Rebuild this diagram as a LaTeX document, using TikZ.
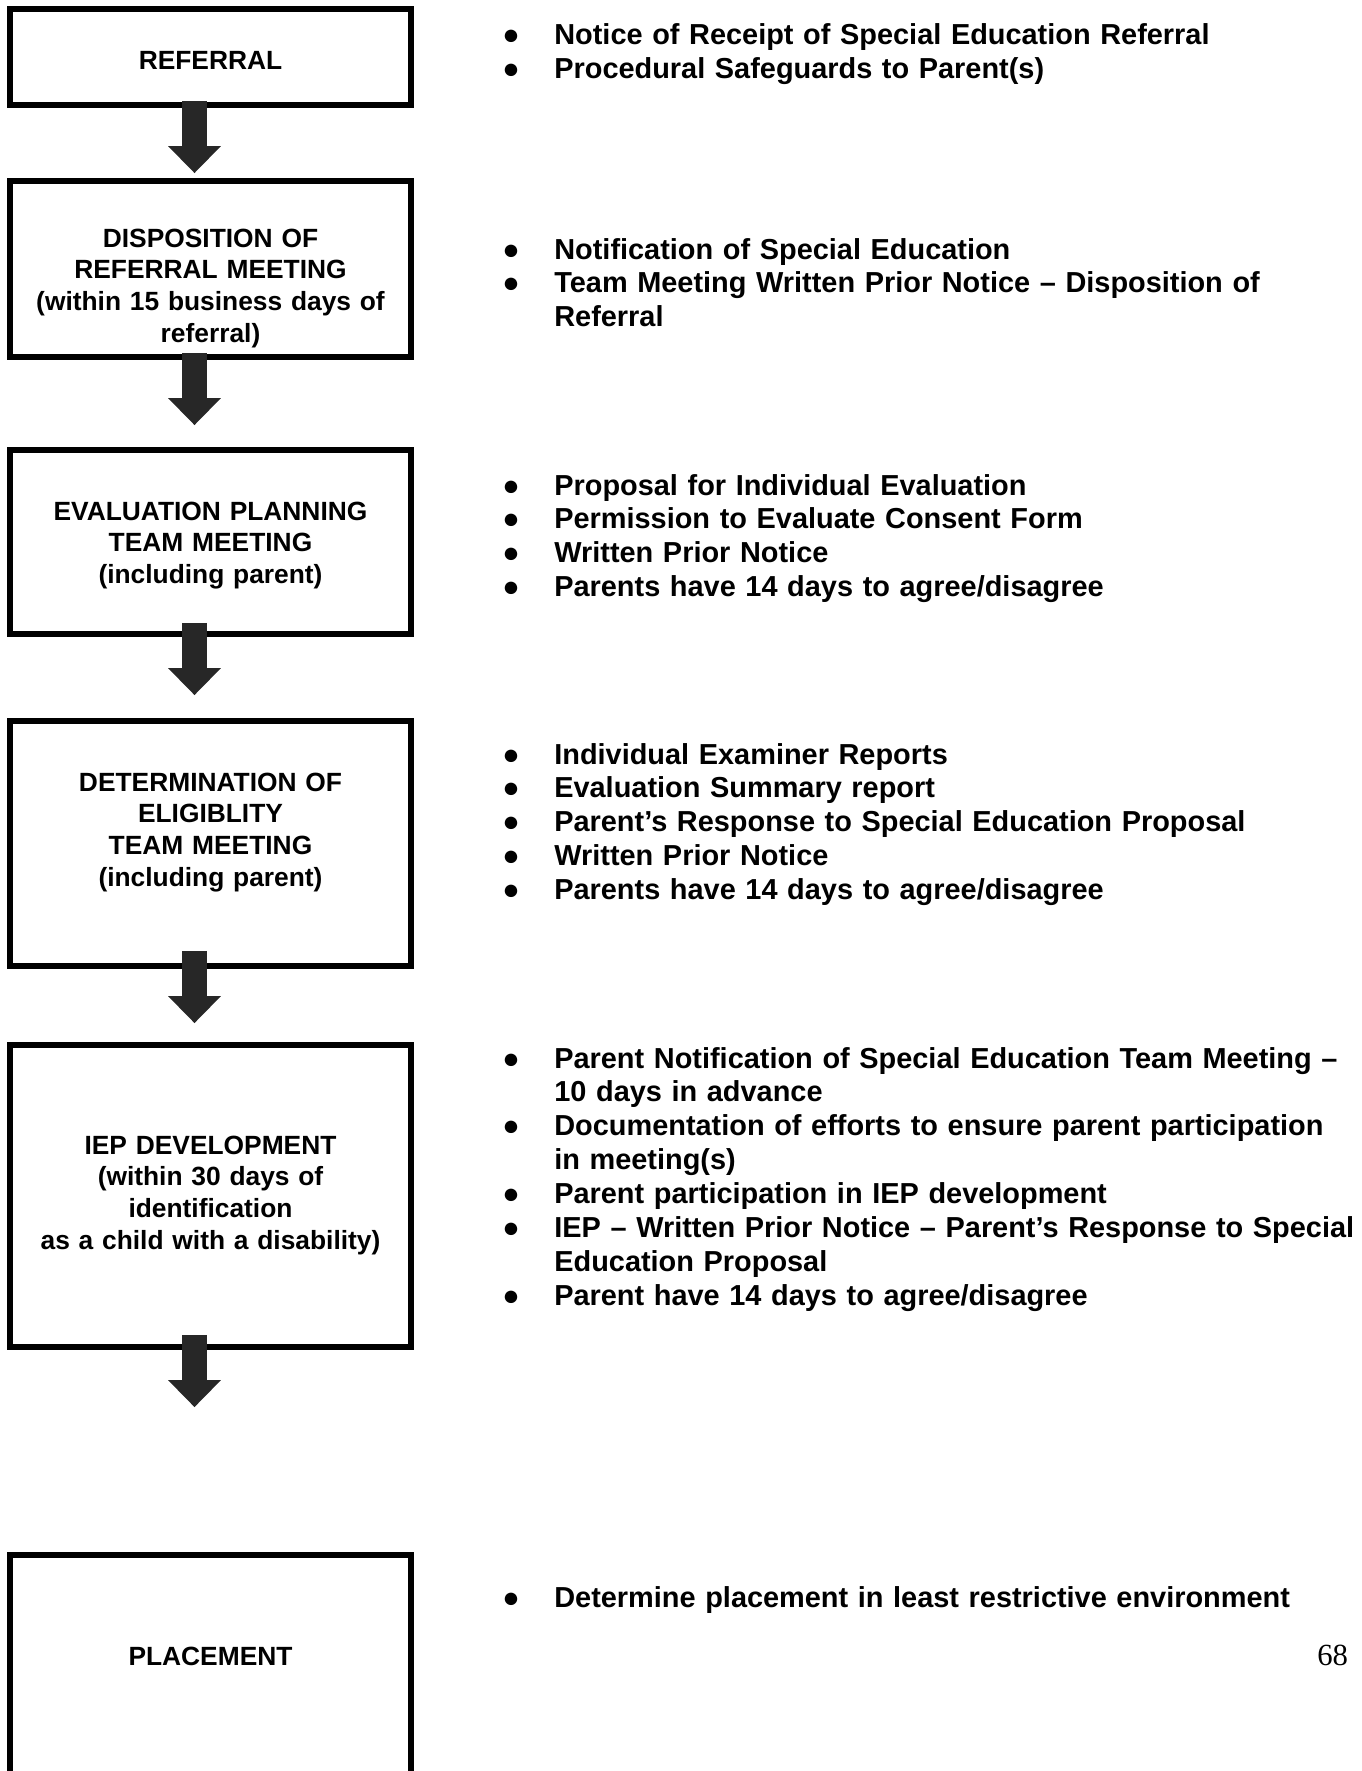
\documentclass[tikz,border=0pt]{standalone}
\usepackage{fontspec}
\setmainfont{Liberation Sans}
\newfontfamily\pagenofont{Liberation Serif}
\usetikzlibrary{arrows.meta}
\definecolor{arrowgray}{HTML}{272727}
\newcommand{\bit}{\makebox[1.04cm][l]{●}}
\newcommand{\cont}{\hspace*{1.04cm}}

\begin{document}
\begin{tikzpicture}[x=0.02cm, y=-0.02cm]
	\tikzstyle{stagebox}=[draw=black, line width=0.12cm, minimum width=8.02cm, inner sep=0pt, outer sep=0pt]
	\tikzstyle{stagetext}=[anchor=base, text width=8cm, align=center, inner sep=0pt, font=\fontsize{15pt}{18.2pt}\selectfont\bfseries]
	\tikzstyle{notes}=[anchor=base west, text width=17.5cm, align=left, inner sep=0pt, font=\fontsize{16.45pt}{19.3pt}\selectfont\bfseries]
	\tikzstyle{flow}=[draw=arrowgray, line width=0.5cm, -{Triangle[width=1.06cm, length=0.54cm, line width=0pt]}]

	\useasboundingbox (0,0) rectangle (1362,1771);
	\clip (0,0) rectangle (1362,1771);

	% stages
	\node[stagebox, minimum height=1.92cm] 	(referral)		at (210.5,57)		{};
	\node[stagebox, minimum height=3.52cm] 	(disposition)	at (210.5,269)		{};
	\node[stagebox, minimum height=3.68cm] 	(planning)		at (210.5,542)		{};
	\node[stagebox, minimum height=4.9cm] 	(eligibility)	at (210.5,843.5)	{};
	\node[stagebox, minimum height=6.04cm] 	(iep)			at (210.5,1196)		{};
	\node[stagebox, minimum height=4.9cm] 	(placement)		at (210.5,1677.5)	{};

	\node[stagetext] 	(referral-t)	at (210.5,70)	{REFERRAL};
	\node[stagetext] 	(disposition-t)	at (210.5,247)	{DISPOSITION OF\\ REFERRAL MEETING\\ (within 15 business days of\\ referral)};
	\node[stagetext] 	(planning-t)	at (210.5,520)	{EVALUATION PLANNING\\ TEAM MEETING\\ (including parent)};
	\node[stagetext] 	(eligibility-t)	at (210.5,791)	{DETERMINATION OF\\ ELIGIBLITY\\ TEAM MEETING\\ (including parent)};
	\node[stagetext] 	(iep-t)			at (210.5,1154)	{IEP DEVELOPMENT\\ (within 30 days of\\ identification\\ as a child with a disability)};
	\node[stagetext] 	(placement-t)	at (210.5,1665)	{PLACEMENT};

	% arrows between stages
	\foreach \a/\b/\up/\gap in {referral/disposition/4/0.16cm, disposition/planning/4/0.5cm, planning/eligibility/11/0.52cm, eligibility/iep/15/0.44cm, iep/placement/12/2.96cm}
		\draw[flow, shorten >=\gap] ([shift={(-16,-\up)}]\a.south) -- ([shift={(-16,0)}]\b.north);

	% documents
	\node[notes] 	(referral-n)	at (502,45)		{\bit Notice of Receipt of Special Education Referral\\
		\bit Procedural Safeguards to Parent(s)};
	\node[notes] 	(disposition-n)	at (502,259)	{\bit Notification of Special Education\\
		\bit Team Meeting Written Prior Notice – Disposition of\\
		\cont Referral};
	\node[notes] 	(planning-n)	at (502,495)	{\bit Proposal for Individual Evaluation\\
		\bit Permission to Evaluate Consent Form\\
		\bit Written Prior Notice\\
		\bit Parents have 14 days to agree/disagree};
	\node[notes] 	(eligibility-n)	at (502,764)	{\bit Individual Examiner Reports\\
		\bit Evaluation Summary report\\
		\bit Parent’s Response to Special Education Proposal\\
		\bit Written Prior Notice\\
		\bit Parents have 14 days to agree/disagree};
	\node[notes] 	(iep-n)			at (502,1068)	{\bit Parent Notification of Special Education Team Meeting –\\
		\cont 10 days in advance\\
		\bit Documentation of efforts to ensure parent participation\\
		\cont in meeting(s)\\
		\bit Parent participation in IEP development\\
		\bit IEP – Written Prior Notice – Parent’s Response to Special\\
		\cont Education Proposal\\
		\bit Parent have 14 days to agree/disagree};
	\node[notes] 	(placement-n)	at (502,1607)	{\bit Determine placement in least restrictive environment};

	\node[anchor=base west, inner sep=0pt, font=\pagenofont\fontsize{17.5pt}{20pt}\selectfont] (pageno) at (1317,1665) {68};
\end{tikzpicture}
\end{document}
